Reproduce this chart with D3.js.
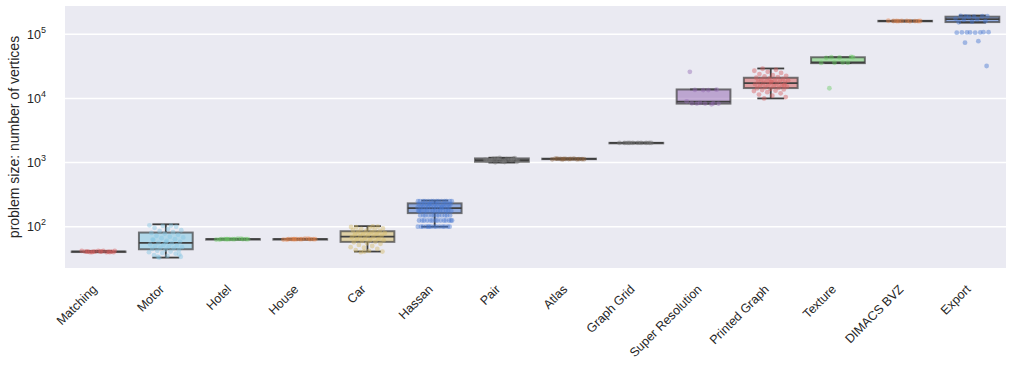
<!DOCTYPE html>
<html>
<head>
<meta charset="utf-8">
<script src="https://cdn.jsdelivr.net/npm/d3@7"></script>
<style>
  body { margin: 0; background: #fff; }
  text { font-family: "Liberation Sans", Arial, sans-serif; fill: #262626; }
</style>
</head>
<body>
<div id="chart"></div>
<script>
// Benchmarks along the x axis
var categories = ["Matching", "Motor", "Hotel", "House", "Car", "Hassan", "Pair", "Atlas",
                  "Graph Grid", "Super Resolution", "Printed Graph", "Texture", "DIMACS BVZ", "Export"];

// strip / box colour per benchmark
var colors = ["#D65F5F", "#82C6E2", "#6ACC64", "#EE854A", "#D5BB67", "#4878D0", "#797979", "#8C613C",
              "#797979", "#956CB4", "#D65F5F", "#6ACC64", "#EE854A", "#4878D0"];

// box stats: [lower whisker, q1, median, q3, upper whisker]
var boxStats = [
    [40, 41, 41, 41, 42],
    [33, 44.5, 56, 81, 109],
    [63, 64, 64, 64, 65],
    [63, 64, 64, 64, 65],
    [41, 58, 70, 85, 102],
    [100, 163, 195, 231, 255],
    [1000, 1030, 1090, 1160, 1190],
    [1120, 1130, 1140, 1150, 1160],
    [2000, 2020, 2025, 2030, 2050],
    [8300, 8300, 8900, 13800, 13800],
    [10000, 14500, 17300, 21000, 29300],
    [35500, 35500, 36500, 43800, 43800],
    [158000, 160000, 161000, 162000, 164000],
    [152000, 155000, 172000, 188000, 196000]
];

// individual problem sizes (strip points)
var points = [
    [40, 40, 41, 41, 41, 41, 42, 42, 40, 41, 42, 41, 40, 41, 42, 41, 41, 40],
    [33, 34, 35, 36, 38, 39, 40, 41, 42, 43, 44, 45, 46, 47, 48, 49, 50, 51, 52, 53, 55, 56, 58, 60,
     62, 64, 66, 68, 70, 72, 75, 78, 80, 82, 85, 88, 92, 96, 100, 103, 105, 104, 34, 37, 57, 63],
    [64, 64, 64, 64, 64, 64, 63, 65, 64, 64, 64, 63, 65, 64],
    [64, 64, 64, 64, 64, 64, 63, 65, 64, 64, 64, 63, 65, 64],
    [40, 41, 42, 43, 45, 47, 48, 50, 52, 54, 55, 57, 58, 60, 61, 62, 64, 65, 67, 68, 70, 71, 72, 74,
     75, 77, 78, 80, 82, 84, 85, 87, 88, 90, 92, 94, 96, 98, 100, 41, 99, 101],
    [100, 100, 100, 100, 100, 100, 100, 100, 100, 100, 100, 100, 100, 100,
     125, 125, 125, 125, 125, 125, 125, 125, 125, 125, 125, 125, 125, 125,
     150, 150, 150, 150, 150, 150, 150, 150, 150, 150, 150, 150,
     175, 175, 175, 175, 175, 175, 175, 175, 175, 175, 175, 175, 175, 175,
     200, 200, 200, 200, 200, 200, 200, 200, 200, 200, 200, 200, 200, 200,
     225, 225, 225, 225, 225, 225, 225, 225, 225, 225, 225, 225, 225, 225,
     250, 250, 250, 250, 250, 250, 250, 250, 250, 250, 250, 250, 250, 250],
    [1010, 1030, 1050, 1070, 1090, 1100, 1110, 1130, 1150, 1170, 1040, 1080, 1120, 1160, 1060,
     1020, 1095, 1140, 1180, 1075],
    [1120, 1130, 1140, 1150, 1135, 1145, 1125, 1155, 1140, 1130, 1135, 1150, 1125, 1145],
    [2020, 2025, 2030, 2025, 2020, 2030, 2025, 2025, 2020, 2030],
    [8300, 8300, 8300, 8400, 8400, 8500, 9000, 13500, 13600, 13700, 13500, 26000, 8100],
    [10000, 10500, 11000, 11500, 12000, 12500, 13000, 13200, 13500, 13800, 14000, 14300, 14600, 14900,
     15200, 15500, 15800, 16100, 16400, 16700, 17000, 17300, 17600, 17900, 18200, 18500, 18800,
     19100, 19400, 19800, 20200, 20600, 21000, 21500, 22000, 22500, 23000, 24000, 25000, 26000,
     27000, 28000, 29000, 16000, 18000],
    [44000, 44000, 43500, 43000, 36000, 36000, 35800, 36200, 14400, 44500],
    [160000, 161000, 162000, 161000, 160500, 161500, 162500, 159500, 161000, 160000],
    [190000, 192000, 188000, 194000, 191000, 186000, 176000, 172000, 168000, 160000, 157000, 154000,
     107000, 107000, 108000, 106000, 107000, 108000, 107000, 106000, 78000, 74000, 32000]
];

// y axis ticks
var yTicks = [100, 1000, 10000, 100000];
var yTickExp = ["2", "3", "4", "5"];

var yTitle = "problem size: number of vertices";

// Chart dimensions
var W = 1014, H = 366;
var plot = {left: 65, right: 1006, top: 6, bottom: 268};

var svg = d3.select("#chart").append("svg")
    .attr("width", W)
    .attr("height", H);

svg.append("rect")
    .attr("x", plot.left)
    .attr("y", plot.top)
    .attr("width", plot.right - plot.left)
    .attr("height", plot.bottom - plot.top)
    .style("fill", "#EAEAF2");

var x = d3.scaleBand()
    .domain(categories)
    .range([plot.left, plot.right])
    .padding(0);

var y = d3.scaleLog()
    .domain([22.7, 276000])
    .range([plot.bottom, plot.top]);

// grid lines
svg.append("g")
    .selectAll("line")
    .data(yTicks)
    .enter()
    .append("line")
    .attr("x1", plot.left)
    .attr("x2", plot.right)
    .attr("y1", function(d) { return y(d); })
    .attr("y2", function(d) { return y(d); })
    .style("stroke", "#fff")
    .style("stroke-width", 1.5);

// y tick labels: 10 with superscript exponent
var yLab = svg.append("g")
    .selectAll("text")
    .data(yTicks)
    .enter()
    .append("text")
    .attr("text-anchor", "end")
    .attr("x", 46)
    .attr("y", function(d) { return y(d) + 4.5; })
    .style("font-size", "12.5px");
yLab.append("tspan").text("10");
yLab.append("tspan")
    .attr("dy", -6)
    .style("font-size", "9px")
    .text(function(d, i) { return yTickExp[i]; });

// y title
svg.append("text")
    .attr("transform", "translate(19," + ((plot.top + plot.bottom) / 2) + ") rotate(-90)")
    .attr("text-anchor", "middle")
    .style("font-size", "14px")
    .text(yTitle);

// x tick labels, rotated
svg.append("g")
    .selectAll("text")
    .data(categories)
    .enter()
    .append("text")
    .attr("text-anchor", "end")
    .attr("transform", function(d) {
        return "translate(" + (x(d) + x.bandwidth() / 2 - 1) + "," + (plot.bottom + 22) + ") rotate(-45)";
    })
    .style("font-size", "12.5px")
    .text(function(d) { return d; });

var bw = x.bandwidth();
var boxW = bw * 0.8;
var capW = boxW / 2;
var lineCol = "#3f3f3f";

var boxes = svg.append("g")
    .selectAll("g")
    .data(categories)
    .enter()
    .append("g")
    .attr("transform", function(d) { return "translate(" + (x(d) + bw / 2) + ",0)"; });

// whiskers
boxes.append("line")
    .attr("y1", function(d, i) { return y(boxStats[i][0]); })
    .attr("y2", function(d, i) { return y(boxStats[i][1]); })
    .style("stroke", lineCol).style("stroke-width", 1.8);
boxes.append("line")
    .attr("y1", function(d, i) { return y(boxStats[i][3]); })
    .attr("y2", function(d, i) { return y(boxStats[i][4]); })
    .style("stroke", lineCol).style("stroke-width", 1.8);
// caps
[0, 4].forEach(function(k) {
    boxes.append("line")
        .attr("x1", -capW / 2).attr("x2", capW / 2)
        .attr("y1", function(d, i) { return y(boxStats[i][k]); })
        .attr("y2", function(d, i) { return y(boxStats[i][k]); })
        .style("stroke", lineCol).style("stroke-width", 1.8);
});
// box
boxes.append("rect")
    .attr("x", -boxW / 2)
    .attr("width", boxW)
    .attr("y", function(d, i) { return y(boxStats[i][3]); })
    .attr("height", function(d, i) { return Math.max(0.5, y(boxStats[i][1]) - y(boxStats[i][3])); })
    .style("fill", function(d, i) { return colors[i]; })
    .style("fill-opacity", 0.55)
    .style("stroke", lineCol)
    .style("stroke-opacity", 0.7)
    .style("stroke-width", 2);
// median
boxes.append("line")
    .attr("x1", -boxW / 2).attr("x2", boxW / 2)
    .attr("y1", function(d, i) { return y(boxStats[i][2]); })
    .attr("y2", function(d, i) { return y(boxStats[i][2]); })
    .style("stroke", lineCol).style("stroke-width", 1.8);

// strip points with a fixed (non-random) jitter
var jitter = 0.26 * bw;
boxes.each(function(d, i) {
    d3.select(this).selectAll("circle")
        .data(points[i])
        .enter()
        .append("circle")
        .attr("cx", function(v, j) { return (((j * 0.618034 + 0.31) % 1) - 0.5) * 2 * jitter; })
        .attr("cy", function(v) { return y(v); })
        .attr("r", 2.4)
        .style("fill", colors[i])
        .style("fill-opacity", 0.45);
});
</script>
</body>
</html>
